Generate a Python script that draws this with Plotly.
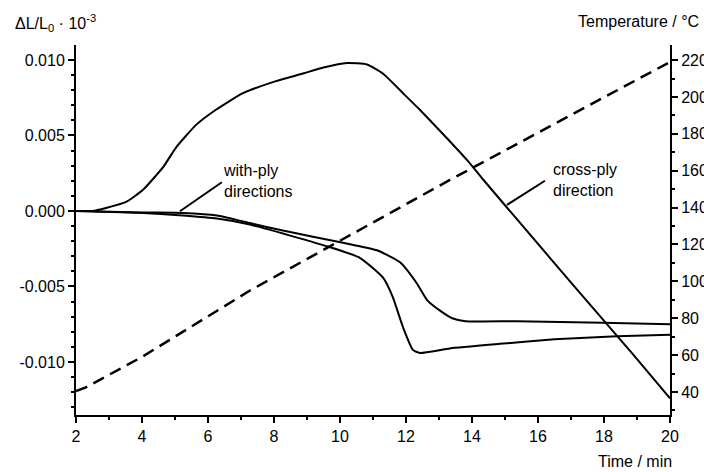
import plotly.graph_objects as go

# Cross-ply direction (dL/L0)
cross_t = [2.0, 2.5, 2.91, 3.52, 4.03, 4.64, 5.03, 5.64, 6.24, 7.06, 8.06, 8.88, 9.5, 10.21,
           10.82, 11.30, 11.91, 12.42, 13.12, 13.88, 14.33, 16.36, 17.97, 18.88, 20.0]
cross_v = [0.0, 0.0, 0.0002, 0.0006, 0.0014, 0.0029, 0.0042, 0.0057, 0.0067, 0.0078, 0.0086,
           0.0091, 0.0095, 0.0098, 0.0097, 0.0091, 0.0078, 0.0067, 0.0051, 0.0033, 0.0021,
           -0.0031, -0.0072, -0.0095, -0.0124]

# With-ply direction A (plateau about -0.0074)
plyA_t = [2.0, 4.03, 5.24, 6.27, 7.27, 8.27, 10.09, 11.12, 11.82, 12.33, 12.64, 13.03, 13.4,
          13.8, 15.36, 17.97, 20.0]
plyA_v = [0.0, -0.0001, -0.00013, -0.0003, -0.0008, -0.0013, -0.0021, -0.0026, -0.0034,
          -0.0048, -0.0059, -0.0066, -0.0071, -0.0073, -0.0073, -0.0074, -0.0075]

# With-ply direction B (dip to about -0.0094)
plyB_t = [2.0, 4.03, 5.24, 6.27, 7.27, 9.7, 10.6, 11.3, 11.6, 11.91, 12.21, 12.42, 13.33,
          14.85, 16.5, 18.39, 20.0]
plyB_v = [0.0, -0.00013, -0.0003, -0.0005, -0.0009, -0.0024, -0.0031, -0.0044, -0.0057,
          -0.0077, -0.0092, -0.0094, -0.0091, -0.0088, -0.0085, -0.0083, -0.0082]

# Temperature (right axis)
temp_t = [2.0, 2.3, 4.0, 7.27, 13.33, 20.0]
temp_v = [40.5, 42.5, 59.0, 95.0, 155.0, 219.0]

# Tick labels
x_ticks = [2, 4, 6, 8, 10, 12, 14, 16, 18, 20]
y1_ticks = [-0.010, -0.005, 0.0, 0.005, 0.010]
y1_text = ["-0.010", "-0.005", "0.000", "0.005", "0.010"]
y2_ticks = [40, 60, 80, 100, 120, 140, 160, 180, 200, 220]

FONT = "Liberation Sans, Arial, sans-serif"
FS = 16
line = dict(color="black", width=2)

fig = go.Figure()
for tx, vy in [(cross_t, cross_v), (plyA_t, plyA_v), (plyB_t, plyB_v)]:
    fig.add_trace(go.Scatter(x=tx, y=vy, mode="lines",
                             line=dict(line, shape="spline", smoothing=0.5)))
fig.add_trace(go.Scatter(x=temp_t, y=temp_v, mode="lines", yaxis="y2",
                         line=dict(color="black", width=2.5, dash="12px,7px")))

axis_common = dict(showline=True, linecolor="black", linewidth=2, ticks="outside",
                   tickcolor="black", tickwidth=1.5, ticklen=6, showgrid=False, zeroline=False,
                   automargin=False,
                   tickfont=dict(family=FONT, size=FS, color="black"))
minor_common = dict(ticks="outside", ticklen=3, tickcolor="black", tickwidth=1.5)

fig.update_layout(
    width=704, height=472,
    margin=dict(l=76, r=34, t=45, b=57),
    paper_bgcolor="white", plot_bgcolor="white",
    showlegend=False,
    font=dict(family=FONT, size=FS, color="black"),
    xaxis=dict(axis_common, range=[2, 20], tickvals=x_ticks,
               minor=dict(minor_common, dtick=1)),
    yaxis=dict(axis_common, range=[-0.01351, 0.01099], tickvals=y1_ticks, ticktext=y1_text,
               minor=dict(minor_common, dtick=0.001, tick0=0)),
    yaxis2=dict(axis_common, overlaying="y", side="right", range=[27.5, 228.2], tickvals=y2_ticks,
                minor=dict(minor_common, dtick=10, tick0=0)),
)

annots = [
    dict(text="ΔL/L<sub>0</sub> · 10<sup>-3</sup>", x=13, y=23, xanchor="left"),
    dict(text="Temperature / °C", x=701, y=21, xanchor="right"),
    dict(text="Time / min", x=674, y=461, xanchor="right"),
    dict(text="with-ply<br>directions", x=221, y=181, xanchor="left"),
    dict(text="cross-ply<br>direction", x=551, y=180, xanchor="left"),
]
for a in annots:
    fig.add_annotation(text=a["text"], xref="paper", yref="paper",
                       x=(a["x"] - 76) / 594, y=(415 - a["y"]) / 370,
                       xanchor=a["xanchor"], yanchor="middle", showarrow=False, align="left",
                       font=dict(family=FONT, size=FS, color="black"))

# Pointer lines for the labels
fig.add_shape(type="line", xref="x", yref="y", x0=5.15, y0=-0.00002, x1=6.42, y1=0.0019,
              line=dict(color="black", width=2))
fig.add_shape(type="line", xref="x", yref="y", x0=15.06, y0=0.0004, x1=16.21, y1=0.0020,
              line=dict(color="black", width=2))

fig.write_html("out.html")
